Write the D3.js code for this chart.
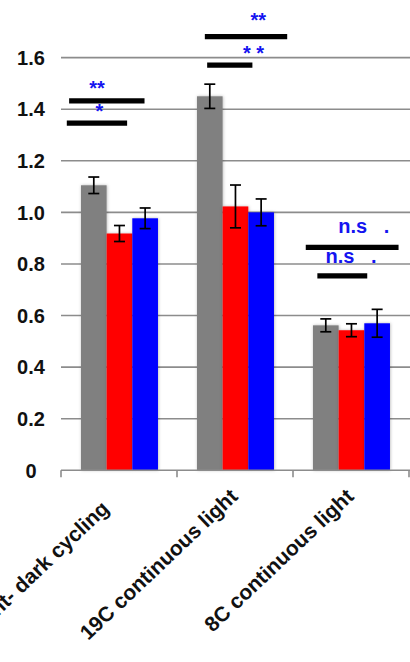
<!DOCTYPE html>
<html>
<head>
<meta charset="utf-8">
<script src="https://cdn.jsdelivr.net/npm/d3@7"></script>
<style>
  html, body { margin: 0; padding: 0; background: #fff; }
  svg { display: block; }
  text { font-family: "Liberation Sans", Arial, sans-serif; font-weight: bold; }
</style>
</head>
<body>
<svg id="chart" width="410" height="662"></svg>
<script>
// ---- data ----
const categories = ["Light- dark cycling   ", "19C continuous light", "8C continuous light"];
const seriesNames = ["control", "treatment A", "treatment B"];
const seriesColors = ["#808080", "#ff0000", "#0000ff"];
const grayValues = [1.105, 1.450, 0.562];
const redValues  = [0.918, 1.023, 0.543];
const blueValues = [0.977, 1.000, 0.570];
const grayErrors = [0.032, 0.047, 0.025];
const redErrors  = [0.031, 0.083, 0.025];
const blueErrors = [0.040, 0.052, 0.054];
const yTicks = [0, 0.2, 0.4, 0.6, 0.8, 1.0, 1.2, 1.4, 1.6];
const yTickLabels = ["0", "0.2", "0.4", "0.6", "0.8", "1.0", "1.2", "1.4", "1.6"];
// significance annotations: category index, level (data units), span as fraction of category band
const sigCategory = [0, 0, 1, 1, 2, 2];
const sigLevel    = [1.432, 1.346, 1.681, 1.571, 0.864, 0.754];
const sigFrom     = [0.07, 0.05, 0.24, 0.26, 0.11, 0.21];
const sigTo       = [0.72, 0.57, 0.95, 0.65, 0.91, 0.64];
const sigLabel    = ["**", "*", "**", "* *", "n.s   .", "n.s   ."];
const sigLabelLevel = [1.455, 1.365, 1.718, 1.590, 0.919, 0.803];
const sigLabelPos   = [0.31, 0.33, 0.70, 0.66, 0.39, 0.28];
const sigLabelAnchor = ["middle", "middle", "middle", "middle", "start", "start"];

// ---- layout ----
const svg = d3.select("#chart");
const x = d3.scaleBand().domain(d3.range(categories.length)).range([61, 409]).padding(0);
const xInner = d3.scaleBand().domain(d3.range(seriesNames.length))
  .range([x.bandwidth() * 0.172, x.bandwidth() * 0.836]).padding(0);
const y = d3.scaleLinear().domain([0, 1.6]).range([470.3, 57.6]);

const defs = svg.append("defs");
const f = defs.append("filter").attr("id", "shadow")
  .attr("x", "-20%").attr("y", "-5%").attr("width", "140%").attr("height", "110%");
f.append("feDropShadow").attr("dx", 0.5).attr("dy", 0).attr("stdDeviation", 1.4)
  .attr("flood-color", "#000").attr("flood-opacity", 0.28);

// gridlines
svg.append("g").selectAll("line").data(yTicks.filter(d => d > 0)).join("line")
  .attr("x1", 61).attr("x2", 410)
  .attr("y1", d => y(d)).attr("y2", d => y(d))
  .attr("stroke", "#8c8c8c").attr("stroke-width", 1.6);

// y labels
svg.append("g").selectAll("text").data(yTicks).join("text")
  .attr("x", 31).attr("y", d => y(d)).attr("dy", "0.36em")
  .attr("text-anchor", "middle").attr("font-size", 20).attr("fill", "#111")
  .text((d, i) => yTickLabels[i]);

// bars
const series = [
  { values: grayValues, errors: grayErrors },
  { values: redValues, errors: redErrors },
  { values: blueValues, errors: blueErrors }
];
const barData = [];
categories.forEach((c, ci) => series.forEach((s, si) => {
  barData.push({ ci, si, v: s.values[ci], e: s.errors[ci] });
}));
const bars = svg.append("g");
series.forEach((s, si) => {
  bars.append("g").attr("filter", "url(#shadow)").selectAll("rect")
    .data(barData.filter(d => d.si === si)).join("rect")
    .attr("x", d => x(d.ci) + xInner(d.si))
    .attr("width", xInner.bandwidth())
    .attr("y", d => y(d.v))
    .attr("height", d => y(0) - y(d.v))
    .attr("fill", seriesColors[si]);
});

// x axis baseline and ticks
const axis = svg.append("g");
axis.append("line").attr("x1", 61).attr("x2", 410).attr("y1", y(0)).attr("y2", y(0))
  .attr("stroke", "#8c8c8c").attr("stroke-width", 1.6);
axis.selectAll("line.tick").data(d3.range(categories.length + 1)).join("line")
  .attr("class", "tick")
  .attr("x1", d => 61 + d * x.bandwidth()).attr("x2", d => 61 + d * x.bandwidth())
  .attr("y1", y(0)).attr("y2", y(0) + 7)
  .attr("stroke", "#8c8c8c").attr("stroke-width", 1.6);

// error bars
const eb = svg.append("g").attr("stroke", "#000").attr("stroke-width", 1.7);
barData.forEach(d => {
  const cx = x(d.ci) + xInner(d.si) + xInner.bandwidth() / 2;
  eb.append("line").attr("x1", cx).attr("x2", cx).attr("y1", y(d.v + d.e)).attr("y2", y(d.v - d.e));
  eb.append("line").attr("x1", cx - 5.5).attr("x2", cx + 5.5).attr("y1", y(d.v + d.e)).attr("y2", y(d.v + d.e));
  eb.append("line").attr("x1", cx - 5.5).attr("x2", cx + 5.5).attr("y1", y(d.v - d.e)).attr("y2", y(d.v - d.e));
});

// category labels
svg.append("g").selectAll("text").data(categories).join("text")
  .attr("transform", (d, i) => `translate(${x(i) + x.bandwidth() / 2 + 4},${498}) rotate(-43.5)`)
  .attr("text-anchor", "end").attr("font-size", 21).attr("fill", "#111")
  .style("white-space", "pre")
  .text(d => d);

// significance bars
svg.append("g").selectAll("line").data(sigLevel).join("line")
  .attr("x1", (d, i) => x(sigCategory[i]) + sigFrom[i] * x.bandwidth())
  .attr("x2", (d, i) => x(sigCategory[i]) + sigTo[i] * x.bandwidth())
  .attr("y1", d => y(d)).attr("y2", d => y(d))
  .attr("stroke", "#000").attr("stroke-width", 5.2);

// significance labels
svg.append("g").selectAll("text").data(sigLabel).join("text")
  .attr("x", (d, i) => x(sigCategory[i]) + sigLabelPos[i] * x.bandwidth())
  .attr("y", (d, i) => y(sigLabelLevel[i]))
  .attr("text-anchor", (d, i) => sigLabelAnchor[i])
  .attr("font-size", 20).attr("fill", "#1414f0")
  .style("white-space", "pre")
  .text(d => d);
</script>
</body>
</html>
